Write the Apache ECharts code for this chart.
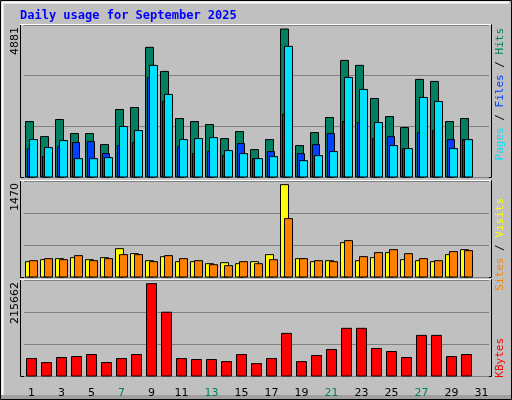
<!DOCTYPE html>
<html><head><meta charset="utf-8">
<script src="https://cdn.jsdelivr.net/npm/echarts@6/dist/echarts.min.js"></script>
<style>html,body{margin:0;padding:0;background:#c0c0c0}#c{width:512px;height:400px}</style>
</head><body><div id="c"></div>
<script>
const days = Array.from({length:31},(_,i)=>String(i+1));
const weekendDays = ['6','7','13','14','20','21','27','28'];
const hits  = [1829,1333,1895,1433,1433,1069,2226,2292,4276,3482,1929,1829,1730,1267,1499,904,1234,4881,1036,1466,1962,3846,3681,2590,1995,1631,3218,3152,1829,1929];
const files = [937,672,1003,1135,1168,771,1036,1135,3284,2491,1003,771,838,705,1102,606,838,2061,771,1069,1433,1829,1796,1267,1333,937,1466,1532,1234,1234];
const pages = [1234,970,1201,606,606,639,1664,1532,3681,2722,1234,1267,1300,871,771,606,672,4309,540,705,838,3284,2887,1796,1036,937,2623,2491,937,1234];
const visits= [244,276,292,308,276,308,451,372,260,324,244,244,212,228,212,244,356,1470,292,244,260,547,260,308,388,276,260,244,356,435];
const sites = [260,292,276,340,260,292,356,356,244,340,292,260,196,181,244,212,276,929,292,260,244,579,324,388,435,372,292,260,404,420];
const kbytes= [40778,31368,43131,45484,50189,31368,40778,50189,215662,149000,40778,38425,38425,33721,50189,29016,40778,99596,33721,47837,61954,111359,111359,64307,57249,43131,94890,94890,45484,50189];
const maxLabels = ['4881','1470','215662'];
const yMax = [5013,1528,224289];

const grids = [{top:25,h:152},{top:181,h:96},{top:280,h:96}];
function barSeries(idx, data, color, off, w, z){
  return {type:'custom', xAxisIndex:idx, yAxisIndex:idx, z:z,
    data:data.map((v,i)=>[i,v]),
    renderItem:(p,api)=>{
      const top=api.coord([api.value(0),api.value(1)]);
      const base=api.coord([api.value(0),0]);
      return {type:'rect',shape:{x:top[0]+off,y:top[1],width:w,height:base[1]-top[1]},
        style:{fill:color,stroke:'#000',lineWidth:1}};
    }};
}
const chart=echarts.init(document.getElementById('c'));
const g=[];
grids.forEach((gr,i)=>{
  g.push({type:'rect',shape:{x:20.5,y:gr.top+0.5-1,width:471,height:gr.h+1},style:{fill:'#c0c0c0',stroke:'#000',lineWidth:1},z:-10});
  g.push({type:'line',shape:{x1:20,y1:gr.top-0.5,x2:491,y2:gr.top-0.5},style:{stroke:'#fff',lineWidth:1},z:-9});
  g.push({type:'text',x:15,y:gr.top+2,rotation:Math.PI/2,style:{text:maxLabels[i],fill:'#000',font:'11px "DejaVu Sans"',align:'right',verticalAlign:'middle'}});
});
g.push({type:'rect',shape:{x:0.5,y:0.5,width:511,height:399},style:{fill:null,stroke:'#000',lineWidth:1},z:-20});
g.push({type:'line',shape:{x1:2,y1:2.5,x2:509,y2:2.5},style:{stroke:'#fff',lineWidth:2},z:-20});
g.push({type:'line',shape:{x1:2.5,y1:2,x2:2.5,y2:396},style:{stroke:'#fff',lineWidth:2},z:-20});
g.push({type:'rect',shape:{x:1,y:395,width:510,height:4},style:{fill:'#a0a0a0'},z:-20});
g.push({type:'text',x:20,y:16,style:{text:'Daily usage for September 2025',fill:'#0000ff',font:'bold 12px "DejaVu Sans Mono"',verticalAlign:'middle'}});
function rightLabel(y,parts){
  g.push({type:'text',x:500,y:y,rotation:Math.PI/2,style:{text:parts.map(p=>'{'+p[1]+'|'+p[0]+'}').join(''),
    rich:{c:{fill:'#00e0ff'},b:{fill:'#0040ff'},g:{fill:'#008060'},s:{fill:'#ff8000'},v:{fill:'#ffff00'},r:{fill:'#ff0000'},k:{fill:'#000'}},
    font:'11px "DejaVu Sans Mono"',align:'right',verticalAlign:'middle'}});
}
rightLabel(28,[['Pages','c'],[' / ','k'],['Files','b'],[' / ','k'],['Hits','g']]);
rightLabel(198,[['Sites','s'],[' / ','k'],['Visits','v']]);
rightLabel(338,[['KBytes','r']]);

const option={
  animation:false,backgroundColor:'#c0c0c0',
  graphic:g,
  grid:grids.map(gr=>({left:24,width:465,top:gr.top,height:gr.h})),
  xAxis:grids.map((gr,i)=>({type:'category',gridIndex:i,data:days,boundaryGap:true,
    axisLine:{show:false},axisTick:{show:false},
    axisLabel:{show:i===2,margin:12,fontSize:11,fontFamily:'DejaVu Sans',
      color:(v)=>weekendDays.includes(v)?'#008060':'#000'}})),
  yAxis:grids.map((gr,i)=>({type:'value',gridIndex:i,min:0,max:yMax[i],interval:yMax[i]/3,
    axisLabel:{show:false},axisLine:{show:false},axisTick:{show:false},
    splitLine:{lineStyle:{color:'#808080',width:1}}})),
  series:[
    barSeries(0,hits,'#008060',-6,8,1),
    barSeries(0,files,'#0040ff',-4,7,2),
    barSeries(0,pages,'#00e0ff',-2,8,3),
    barSeries(1,visits,'#ffff00',-6,8,1),
    barSeries(1,sites,'#ff8000',-2,8,2),
    barSeries(2,kbytes,'#ff0000',-5,10,1)
  ]
};
chart.setOption(option);
</script></body></html>
